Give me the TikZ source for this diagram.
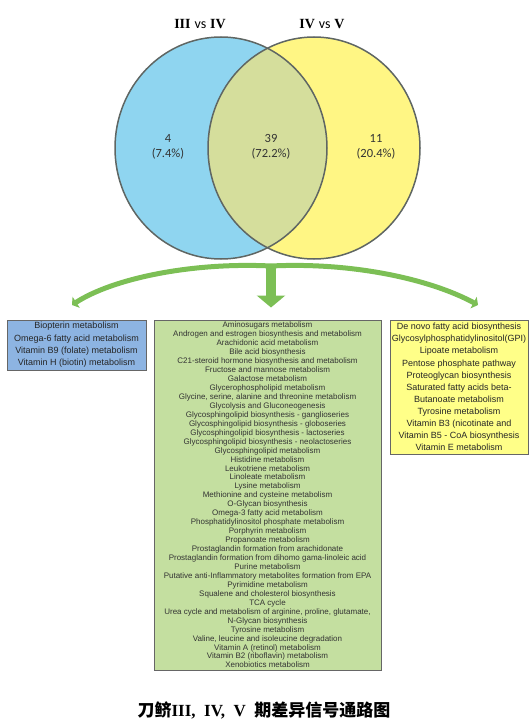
\documentclass[tikz,border=0pt]{standalone}
\usepackage{fontspec}
\setmainfont{Liberation Sans}
\newfontfamily\calibrifont{Carlito}
\newfontfamily\romanfont{Liberation Serif}
\newfontfamily\cjkfont{Noto Sans CJK SC}
\usepackage{tikz}
\usetikzlibrary{arrows.meta,positioning}
\usepackage{xcolor}

\definecolor{vennblue}{HTML}{8FD5F0}
\definecolor{vennyellow}{HTML}{FFF684}
\definecolor{vennboth}{HTML}{D5DE9C}
\definecolor{venngray}{HTML}{5F6663}
\definecolor{forkgreen}{HTML}{7CBF55}
\definecolor{boxblue}{HTML}{8DB4E2}
\definecolor{boxgreen}{HTML}{C4DFA0}
\definecolor{boxyellow}{HTML}{FFFF88}

\tikzset{
  venntext/.style={font=\calibrifont\fontsize{12.5}{15.5}\selectfont, text=black!80, align=center},
  setbox/.style={draw=black!60, line width=1pt, align=center, inner sep=0pt},
  forkline/.style={draw=forkgreen, line width=5pt}
}

\begin{document}
\begin{tikzpicture}[x=1pt, y=-1pt]
    \useasboundingbox (0,0) rectangle (531,725);

    % Venn circles
    \fill[vennblue] (221,148) ellipse [x radius=106pt, y radius=111pt];
    \fill[vennyellow] (314,148) ellipse [x radius=106pt, y radius=111pt];
    \begin{scope}
      \clip (221,148) ellipse [x radius=106pt, y radius=111pt];
      \fill[vennboth] (314,148) ellipse [x radius=106pt, y radius=111pt];
    \end{scope}
    \draw[venngray, line width=1.5pt] (221,148) ellipse [x radius=106pt, y radius=111pt];
    \draw[venngray, line width=1.5pt] (314,148) ellipse [x radius=106pt, y radius=111pt];

    % Venn labels
    \node (leftname) at (200,24) {\fontsize{14}{16}\selectfont\textbf{\romanfont III} {\calibrifont vs} \textbf{\romanfont IV}};
    \node (rightname) at (322,24) {\fontsize{14}{16}\selectfont\textbf{\romanfont IV} {\calibrifont vs} \textbf{\romanfont V}};
    \node[venntext] (onlyleft) at (168,147) {4\\(7.4\%)};
    \node[venntext] (both) at (271,147) {39\\(72.2\%)};
    \node[venntext] (onlyright) at (376,147) {11\\(20.4\%)};

    % Pathway boxes
    \node[setbox, fill=boxblue, minimum width=139pt, minimum height=50pt,
          font=\fontsize{9}{12.3}\selectfont, text=black!85] (blueset) at (76.5,345)
      {Biopterin metabolism\\Omega-6 fatty acid metabolism\\Vitamin B9 (folate) metabolism\\Vitamin H (biotin) metabolism};

    \node[setbox, fill=boxgreen, minimum width=227pt, minimum height=350pt,
          font=\fontsize{8}{8.95}\selectfont, text=black!80] (commonset) at (267.5,495)
      {Aminosugars metabolism\\
       Androgen and estrogen biosynthesis and metabolism\\
       Arachidonic acid metabolism\\
       Bile acid biosynthesis\\
       C21-steroid hormone biosynthesis and metabolism\\
       Fructose and mannose metabolism\\
       Galactose metabolism\\
       Glycerophospholipid metabolism\\
       Glycine, serine, alanine and threonine metabolism\\
       Glycolysis and Gluconeogenesis\\
       Glycosphingolipid biosynthesis - ganglioseries\\
       Glycosphingolipid biosynthesis - globoseries\\
       Glycosphingolipid biosynthesis - lactoseries\\
       Glycosphingolipid biosynthesis - neolactoseries\\
       Glycosphingolipid metabolism\\
       Histidine metabolism\\
       Leukotriene metabolism\\
       Linoleate metabolism\\
       Lysine metabolism\\
       Methionine and cysteine metabolism\\
       O-Glycan biosynthesis\\
       Omega-3 fatty acid metabolism\\
       Phosphatidylinositol phosphate metabolism\\
       Porphyrin metabolism\\
       Propanoate metabolism\\
       Prostaglandin formation from arachidonate\\
       Prostaglandin formation from dihomo gama-linoleic acid\\
       Purine metabolism\\
       Putative anti-Inflammatory metabolites formation from EPA\\
       Pyrimidine metabolism\\
       Squalene and cholesterol biosynthesis\\
       TCA cycle\\
       Urea cycle and metabolism of arginine, proline, glutamate,\\
       N-Glycan biosynthesis\\
       Tyrosine metabolism\\
       Valine, leucine and isoleucine degradation\\
       Vitamin A (retinol) metabolism\\
       Vitamin B2 (riboflavin) metabolism\\
       Xenobiotics metabolism};

    \node[setbox, fill=boxyellow, minimum width=138pt, minimum height=134pt,
          font=\fontsize{9}{12.1}\selectfont, text=black!85] (yellowset) at (459,387)
      {De novo fatty acid biosynthesis\\
       Glycosylphosphatidylinositol(GPI)\\
       Lipoate metabolism\\
       Pentose phosphate pathway\\
       Proteoglycan biosynthesis\\
       Saturated fatty acids beta-\\
       Butanoate metabolism\\
       Tyrosine metabolism\\
       Vitamin B3 (nicotinate and\\
       Vitamin B5 - CoA biosynthesis\\
       Vitamin E metabolism};

    % Green fork
    \coordinate (fork) at (271,266);
    \coordinate (leftend) at (72,305);
    \coordinate (rightend) at (478,305);
    \draw[forkline, -{Triangle[width=13pt,length=5pt]}] (fork) .. controls (190,262) and (112,279) .. (leftend);
    \draw[forkline, -{Triangle[width=13pt,length=5pt]}] (fork) .. controls (352,262) and (430,279) .. (rightend);
    \draw[draw=forkgreen, line width=10pt, shorten >=12pt, -{Triangle[width=28pt,length=12pt]}] (fork) -- (fork |- commonset.north);

    % Title
    \node (title) at (264,710) {\fontsize{17}{19}\selectfont\bfseries{\cjkfont 刀鲚}{\romanfont III,\enspace IV,\enspace V\enspace}{\cjkfont 期差异信号通路图}};
\end{tikzpicture}
\end{document}
